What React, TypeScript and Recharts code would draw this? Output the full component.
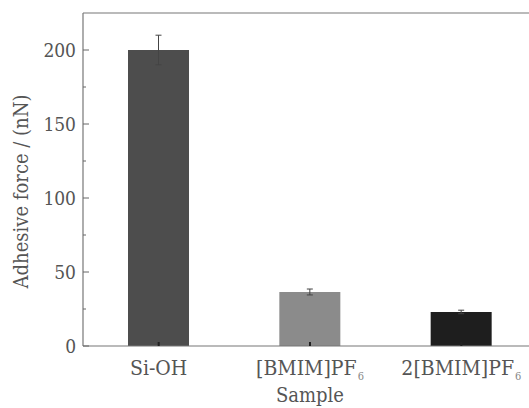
import React from 'react';
import { BarChart, Bar, XAxis, YAxis, ErrorBar, ReferenceLine, Cell } from 'recharts';

const categories = ['Si-OH', '[BMIM]PF6', '2[BMIM]PF6'];
const adhesiveForce = [200, 36.5, 23];
const errors = [10, 2, 1.2];
const barColors = ['#4d4d4d', '#8b8b8b', '#1e1e1e'];
const yTicks = [0, 25, 50, 75, 100, 125, 150, 175, 200];
const yLabelTicks = [0, 50, 100, 150, 200];

const data = categories.map((c, i) => ({ name: c, value: adhesiveForce[i], err: errors[i] }));

const FONT = "'DejaVu Serif Condensed', 'DejaVu Serif', serif";
const TEXT = '#555';
const AXIS = '#777';

const YTick = (props: any) => {
  const { x, y, payload } = props;
  const axisX = x + 7;
  const v = payload.value;
  const major = yLabelTicks.includes(v);
  return (
    <g>
      <line x1={axisX} x2={axisX + (major ? 6 : 3)} y1={y} y2={y} stroke="#666" strokeWidth={1} />
      {major && (
        <text x={x} y={y + 7} textAnchor="end" fontSize={19} fill={TEXT} fontFamily={FONT}>
          {v}
        </text>
      )}
    </g>
  );
};

const XTick = (props: any) => {
  const { x, y, payload } = props;
  const label: string = String(payload.value);
  const m = label.match(/^(.*PF)(\d)$/);
  const base = m ? m[1] : label;
  const sub = m ? m[2] : '';
  return (
    <g>
      <line x1={x} x2={x} y1={y} y2={y - 4} stroke="#222" strokeWidth={2} />
      <text x={x} y={y + 29} textAnchor="middle" fontSize={21} fill={TEXT} fontFamily={FONT}>
        {base}
        {sub && (
          <tspan dx={1} dy={5} fontSize={11} fill="#888">
            {sub}
          </tspan>
        )}
      </text>
    </g>
  );
};

const YLabel = (props: any) => {
  const vb = props.viewBox || { x: 0, y: 13, width: 83, height: 333 };
  const cx = vb.x + 21;
  const cy = vb.y + vb.height / 2 + 12;
  return (
    <text
      x={cx}
      y={cy}
      transform={`rotate(-90 ${cx} ${cy})`}
      textAnchor="middle"
      dominantBaseline="central"
      fontSize={20}
      fill={TEXT}
      fontFamily={FONT}
    >
      Adhesive force / (nN)
    </text>
  );
};

export default function App() {
  return (
    <div
      style={{
        position: 'absolute',
        left: 0,
        top: 0,
        width: 529,
        height: 408,
        overflow: 'hidden',
        background: '#fff',
      }}
    >
      <BarChart width={545} height={408} data={data} margin={{ top: 13, right: 8, bottom: 0, left: 0 }}>
        <XAxis
          dataKey="name"
          height={62}
          tickSize={0}
          tickMargin={0}
          tickLine={false}
          axisLine={{ stroke: AXIS, strokeWidth: 1.2 }}
          tick={<XTick />}
          interval={0}
          label={{
            value: 'Sample',
            position: 'insideBottom',
            offset: 6,
            fill: TEXT,
            fontSize: 20,
            fontFamily: FONT,
          }}
        />
        <YAxis
          width={83}
          domain={[0, 225]}
          ticks={yTicks}
          interval={0}
          tickSize={0}
          tickMargin={7}
          tickLine={false}
          axisLine={{ stroke: AXIS, strokeWidth: 1.2 }}
          tick={<YTick />}
          label={YLabel}
        />
        <ReferenceLine y={225} stroke={AXIS} strokeWidth={1.2} />
        <Bar dataKey="value" barSize={61} isAnimationActive={false}>
          {data.map((d, i) => (
            <Cell key={d.name} fill={barColors[i]} />
          ))}
          <ErrorBar dataKey="err" width={3} stroke="#444" strokeWidth={1} direction="y" />
        </Bar>
      </BarChart>
    </div>
  );
}
